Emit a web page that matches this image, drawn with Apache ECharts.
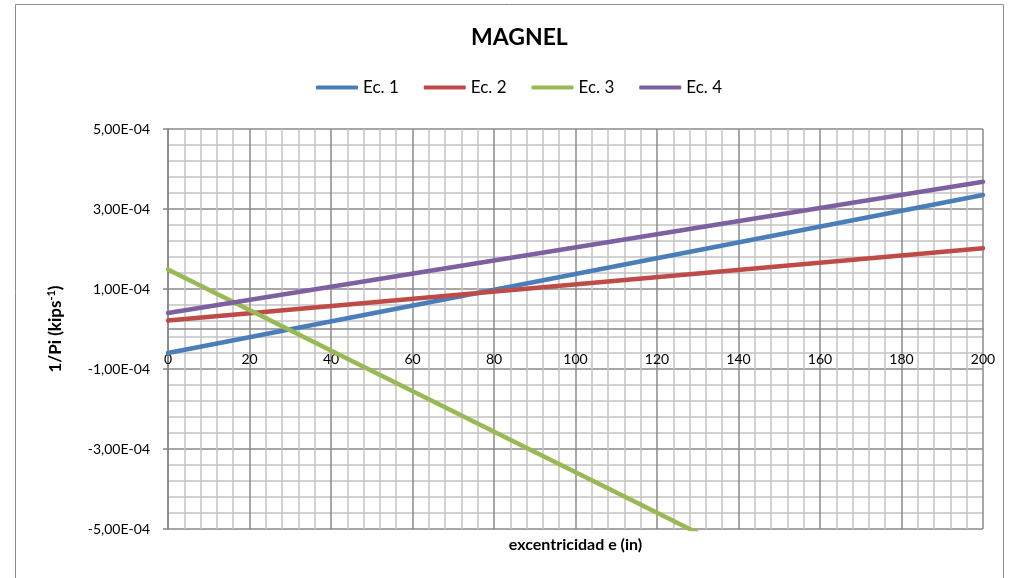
<!DOCTYPE html>
<html>
<head>
<meta charset="utf-8">
<script src="https://cdn.jsdelivr.net/npm/echarts@6/dist/echarts.min.js"></script>
<style>
html,body{margin:0;padding:0;background:#fff;}
#chart{width:1018px;height:578px;}
</style>
</head>
<body>
<div id="chart"></div>
<script>
// ---- data ----
const chartTitle = 'MAGNEL';
const seriesNames = ['Ec. 1', 'Ec. 2', 'Ec. 3', 'Ec. 4'];
const ec1X = [0, 200];
const ec1Y = [-6.0e-5, 3.35e-4];
const ec2X = [0, 200];
const ec2Y = [2.1e-5, 2.02e-4];
const ec3X = [0, 130];
const ec3Y = [1.49e-4, -5.1e-4];
const ec4X = [0, 200];
const ec4Y = [4.0e-5, 3.68e-4];
const xTicks = [0, 20, 40, 60, 80, 100, 120, 140, 160, 180, 200];
const yTicks = [-5e-4, -3e-4, -1e-4, 1e-4, 3e-4, 5e-4];

const colors = ['#4A7EBB', '#BE4B48', '#98B954', '#7D60A0'];
const FONT = 'Lato';

function pairs(xs, ys) { return xs.map((x, i) => [x, ys[i]]); }
function fmtE(v) {
  let s = Number(v).toExponential(2);
  let parts = s.split('e');
  let sign = parts[1][0] === '-' ? '-' : '+';
  let d = parts[1].replace(/[+-]/, '');
  if (d.length < 2) d = '0' + d;
  return parts[0].replace('.', ',') + 'E' + sign + d;
}

const chart = echarts.init(document.getElementById('chart'));
const allData = [pairs(ec1X, ec1Y), pairs(ec2X, ec2Y), pairs(ec3X, ec3Y), pairs(ec4X, ec4Y)];

const GRID_TOP = 129, GRID_BOTTOM = 49, GRID_H = 578 - GRID_TOP - GRID_BOTTOM;
// x axis crosses the y axis at value 0
const zeroOffset = -GRID_H * (0 - yTicks[0]) / (yTicks[yTicks.length - 1] - yTicks[0]);

const option = {
  backgroundColor: '#fff',
  animation: false,
  textStyle: { fontFamily: FONT },
  title: {
    text: chartTitle,
    left: 471,
    top: 26,
    padding: 0,
    textStyle: { fontFamily: FONT, fontSize: 23, fontWeight: 'bold', color: '#000' }
  },
  legend: {
    top: 79,
    left: 316,
    padding: 0,
    icon: 'roundRect',
    itemWidth: 42,
    itemHeight: 4,
    itemGap: 25,
    data: seriesNames,
    textStyle: { fontFamily: FONT, fontSize: 17, color: '#000' }
  },
  graphic: [{
    type: 'rect',
    shape: { x: 15.5, y: 4.5, width: 988, height: 600 },
    style: { fill: 'none', stroke: '#8c8c8c', lineWidth: 1 },
    silent: true, z: -10
  }],
  grid: { left: 168, right: 35, top: GRID_TOP, bottom: GRID_BOTTOM, containLabel: false },
  xAxis: [{
    type: 'value',
    position: 'bottom',
    offset: zeroOffset,
    min: xTicks[0],
    max: xTicks[xTicks.length - 1],
    interval: 20,
    axisLine: { show: true, onZero: false, lineStyle: { color: '#868686', width: 1.5 } },
    axisTick: { show: false },
    axisLabel: { margin: 23, fontFamily: FONT, fontSize: 14, color: '#000' },
    splitLine: { show: true, lineStyle: { color: '#8a8a8a', width: 1.5 } },
    minorTick: { show: false, splitNumber: 5 },
    minorSplitLine: { show: true, lineStyle: { color: '#c3c3c3', width: 1.5 } }
  }, {
    type: 'value',
    position: 'bottom',
    offset: 0,
    min: xTicks[0],
    max: xTicks[xTicks.length - 1],
    name: 'excentricidad e (in)',
    nameLocation: 'middle',
    nameGap: 8,
    nameTextStyle: { fontFamily: FONT, fontSize: 16, fontWeight: 'bold', color: '#000' },
    axisLine: { show: false, onZero: false },
    axisTick: { show: false },
    axisLabel: { show: false },
    splitLine: { show: false }
  }],
  yAxis: {
    type: 'value',
    min: yTicks[0],
    max: yTicks[yTicks.length - 1],
    interval: 2e-4,
    name: '{b|1/Pi (kips}{s|-1}{b|)}',
    nameLocation: 'middle',
    nameRotate: 90,
    nameGap: 103,
    nameTextStyle: {
      rich: {
        b: { fontFamily: FONT, fontSize: 17, fontWeight: 'bold', color: '#000' },
        s: { fontFamily: FONT, fontSize: 11, fontWeight: 'bold', color: '#000', verticalAlign: 'top', padding: [0, 0, 8, 0] }
      }
    },
    axisLine: { show: true, onZero: false, lineStyle: { color: '#868686', width: 1.5 } },
    axisTick: { show: true, inside: false, length: 5, lineStyle: { color: '#868686', width: 1.5 } },
    axisLabel: { margin: 18, fontFamily: FONT, fontSize: 14, color: '#000', formatter: fmtE },
    splitLine: { show: true, lineStyle: { color: '#8a8a8a', width: 1.5 } },
    minorTick: { show: false, splitNumber: 5 },
    minorSplitLine: { show: true, lineStyle: { color: '#c3c3c3', width: 1.5 } }
  },
  series: seriesNames.map((n, i) => ({
    name: n,
    type: 'line',
    xAxisIndex: 0,
    data: allData[i],
    showSymbol: false,
    symbol: 'none',
    clip: true,
    color: colors[i],
    lineStyle: { width: 4.5, color: colors[i], cap: 'round' },
    z: 5
  }))
};
chart.setOption(option);
</script>
</body>
</html>
